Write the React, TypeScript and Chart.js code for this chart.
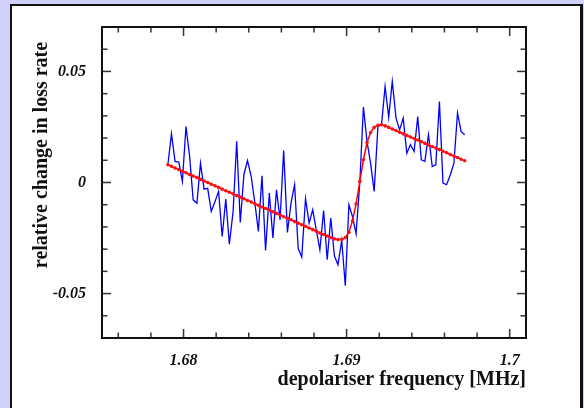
import React, { useEffect, useRef } from "react";
import { Chart, registerables } from "chart.js";

Chart.register(...registerables);

// depolariser frequency [MHz]
const FREQ = [
  1.67904, 1.67926, 1.67948, 1.67971, 1.67993, 1.68015, 1.68037, 1.68059, 1.68082, 1.68104,
  1.68126, 1.68148, 1.6817, 1.68193, 1.68215, 1.68237, 1.68259, 1.68281, 1.68304, 1.68326,
  1.68348, 1.6837, 1.68392, 1.68415, 1.68437, 1.68459, 1.68481, 1.68503, 1.68526, 1.68548,
  1.6857, 1.68592, 1.68614, 1.68637, 1.68659, 1.68681, 1.68703, 1.68725, 1.68748, 1.6877,
  1.68792, 1.68814, 1.68836, 1.68859, 1.68881, 1.68903, 1.68925, 1.68947, 1.6897, 1.68992,
  1.69014, 1.69036, 1.69058, 1.69081, 1.69103, 1.69125, 1.69147, 1.69169, 1.69192, 1.69214,
  1.69236, 1.69258, 1.6928, 1.69303, 1.69325, 1.69347, 1.69369, 1.69391, 1.69414, 1.69436,
  1.69458, 1.6948, 1.69502, 1.69525, 1.69547, 1.69569, 1.69591, 1.69613, 1.69636, 1.69658,
  1.6968, 1.69702, 1.69724,
];

// measured relative change in loss rate (blue)
const MEASURED = [
  0.008, 0.0219, 0.0095, 0.0092, 0.0005, 0.0252, 0.012, -0.0078, -0.0093, 0.0087,
  -0.003, -0.0026, -0.013, -0.0086, -0.004, -0.0243, -0.0075, -0.0278, -0.013, 0.0185,
  -0.018, 0.0035, 0.0099, 0.0027, -0.009, -0.022, 0.003, -0.0306, -0.0048, -0.025,
  -0.0033, -0.0168, 0.0144, -0.0225, -0.0093, -0.001, -0.0296, -0.0336, -0.0073, -0.0183,
  -0.0123, -0.0213, -0.0303, -0.0126, -0.0348, -0.016, -0.033, -0.037, -0.0261, -0.0465,
  -0.01, -0.0153, -0.0231, 0.0, 0.034, 0.0185, 0.0087, -0.004, 0.0252, 0.026,
  0.0432, 0.0293, 0.0455, 0.029, 0.0237, 0.029, 0.0132, 0.017, 0.014, 0.0297,
  0.0102, 0.0095, 0.0215, 0.0072, 0.008, 0.0365, -0.0003, -0.001, 0.0035, 0.0087,
  0.0313, 0.023, 0.0215,
];

// fitted curve (red)
const FIT = [
  0.008, 0.0073, 0.0065, 0.0058, 0.0051, 0.0044, 0.0036, 0.0029, 0.0022, 0.0014,
  0.0007, 0.0, -0.0008, -0.0015, -0.0022, -0.003, -0.0037, -0.0044, -0.0051, -0.0059,
  -0.0066, -0.0073, -0.0081, -0.0088, -0.0095, -0.0103, -0.011, -0.0117, -0.0124, -0.0132,
  -0.0139, -0.0146, -0.0154, -0.0161, -0.0168, -0.0176, -0.0183, -0.019, -0.0197, -0.0205,
  -0.0212, -0.0219, -0.0227, -0.0234, -0.0241, -0.0248, -0.0254, -0.0257, -0.0257, -0.0248,
  -0.0224, -0.0173, -0.0096, 0.0005, 0.0102, 0.018, 0.0225, 0.0248, 0.0258, 0.026,
  0.0255, 0.0248, 0.0241, 0.0234, 0.0226, 0.0219, 0.0212, 0.0205, 0.0198, 0.0191,
  0.0184, 0.0176, 0.0169, 0.0162, 0.0155, 0.0148, 0.0141, 0.0134, 0.0126, 0.0119,
  0.0112, 0.0105, 0.0098,
];

const X_LABEL_TICKS = [1.68, 1.69, 1.7];
const X_MINOR_TICKS = [1.676, 1.678, 1.682, 1.684, 1.686, 1.688, 1.692, 1.694, 1.696, 1.698];
const Y_LABEL_TICKS = [-0.05, 0, 0.05];
const Y_MINOR_TICKS = [-0.06, -0.04, -0.03, -0.02, -0.01, 0.01, 0.02, 0.03, 0.04, 0.06];

const X_TITLE = "depolariser frequency [MHz]";
const Y_TITLE = "relative change in loss rate";

const SERIF = "'Liberation Serif', 'Times New Roman', serif";

const frameTicks = {
  id: "frameTicks",
  afterDraw(chart: any) {
    const { ctx, chartArea: a, scales } = chart;
    const x = scales.x;
    const y = scales.y;
    ctx.save();
    ctx.strokeStyle = "#333";
    ctx.lineWidth = 1.5;
    const seg = (x1: number, y1: number, x2: number, y2: number) => {
      ctx.beginPath();
      ctx.moveTo(x1, y1);
      ctx.lineTo(x2, y2);
      ctx.stroke();
    };
    const xt = (vals: number[], len: number) => {
      for (const v of vals) {
        const p = x.getPixelForValue(v);
        seg(p, a.bottom, p, a.bottom - len);
        seg(p, a.top, p, a.top + len);
      }
    };
    const yt = (vals: number[], len: number) => {
      for (const v of vals) {
        const p = y.getPixelForValue(v);
        seg(a.left, p, a.left + len, p);
        seg(a.right, p, a.right - len, p);
      }
    };
    xt(X_MINOR_TICKS, 5.5);
    xt(X_LABEL_TICKS, 9);
    yt(Y_MINOR_TICKS, 5.5);
    yt(Y_LABEL_TICKS, 9);
    ctx.strokeStyle = "#111";
    ctx.lineWidth = 2;
    ctx.strokeRect(a.left, a.top, a.right - a.left, a.bottom - a.top);

    // vertical axis title
    ctx.translate(41.5, 155);
    ctx.rotate(-Math.PI / 2);
    ctx.fillStyle = "#111";
    ctx.font = `bold 20px ${SERIF}`;
    ctx.textAlign = "center";
    ctx.textBaseline = "middle";
    ctx.fillText(Y_TITLE, 0, 0);
    ctx.restore();
  },
};

export default function App() {
  const ref = useRef<HTMLCanvasElement | null>(null);

  useEffect(() => {
    if (!ref.current) return;
    const tickFont = { family: SERIF, size: 16, weight: "bold" as const, style: "italic" as const };
    const chart = new Chart(ref.current, {
      type: "line",
      data: {
        datasets: [
          {
            label: "fit",
            data: FREQ.map((f, i) => ({ x: f, y: FIT[i] })),
            borderColor: "#ff0000",
            backgroundColor: "#ff0000",
            borderWidth: 1.5,
            pointRadius: 1.8,
            pointBorderWidth: 0,
            pointBackgroundColor: "#ff1010",
            tension: 0,
          },
          {
            label: "measured",
            data: FREQ.map((f, i) => ({ x: f, y: MEASURED[i] })),
            borderColor: "#0000ff",
            backgroundColor: "#0000ff",
            borderWidth: 1.3,
            pointRadius: 0,
            tension: 0,
          },
        ],
      },
      options: {
        animation: false,
        responsive: false,
        devicePixelRatio: 1,
        events: [],
        layout: { padding: { left: 0, top: 27, right: 58, bottom: 0 } },
        plugins: { legend: { display: false }, tooltip: { enabled: false } },
        scales: {
          x: {
            type: "linear",
            min: 1.675,
            max: 1.701,
            grid: { display: false, drawTicks: false },
            border: { display: false },
            afterBuildTicks: (s: any) => {
              s.ticks = X_LABEL_TICKS.map((v) => ({ value: v }));
            },
            afterFit: (s: any) => {
              s.height = 70;
            },
            ticks: {
              padding: 13,
              maxRotation: 0,
              autoSkip: false,
              color: "#111",
              font: tickFont,
              callback: (v: any) => String(v),
            },
            title: {
              display: true,
              text: X_TITLE,
              align: "end",
              color: "#111",
              font: { family: SERIF, size: 20, weight: "bold" },
              padding: { top: 0, bottom: 16 },
            },
          },
          y: {
            type: "linear",
            min: -0.07,
            max: 0.07,
            grid: { display: false, drawTicks: false },
            border: { display: false },
            afterBuildTicks: (s: any) => {
              s.ticks = Y_LABEL_TICKS.map((v) => ({ value: v }));
            },
            afterFit: (s: any) => {
              s.width = 102;
            },
            ticks: {
              padding: 16,
              autoSkip: false,
              color: "#111",
              font: tickFont,
              callback: (v: any) => String(v),
            },
          },
        },
      },
      plugins: [frameTicks],
    });
    return () => chart.destroy();
  }, []);

  return (
    <div
      style={{
        position: "absolute",
        left: 0,
        top: 0,
        width: 584,
        height: 408,
        overflow: "hidden",
        background: "#d0d0fa",
      }}
    >
      <div
        style={{
          position: "absolute",
          left: 10,
          top: 4,
          width: 573,
          height: 430,
          boxSizing: "border-box",
          borderTop: "2px solid #111",
          borderLeft: "2px solid #111",
          borderRight: "3px solid #111",
          background: "#ffffff",
        }}
      />
      <canvas
        ref={ref}
        width={584}
        height={408}
        style={{ position: "absolute", left: 0, top: 0, width: 584, height: 408 }}
      />
    </div>
  );
}
